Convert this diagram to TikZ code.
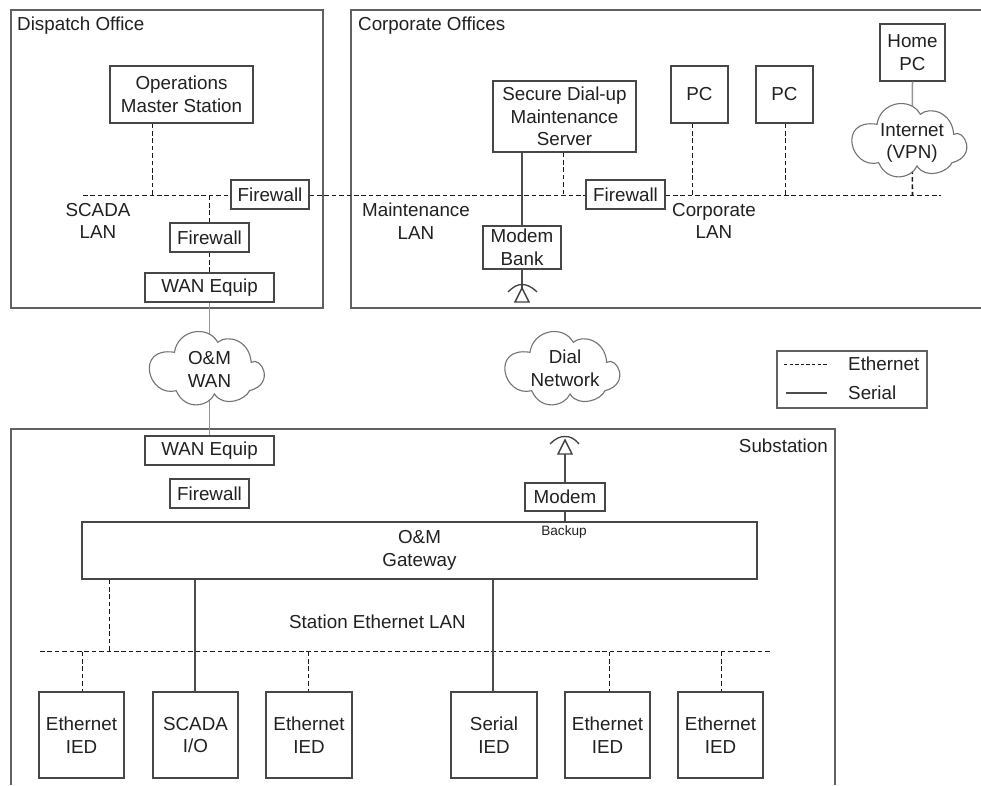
\documentclass[tikz,border=0pt]{standalone}
\usepackage{fontspec}
\setmainfont{Liberation Sans}
\definecolor{ink}{gray}{0.13}
\tikzset{
  x=1pt,y=-1pt,
  lbl/.style={inner sep=0pt,align=center,text=ink,font=\fontsize{18.8}{22.6}\selectfont},
  bx/.style n args={2}{lbl,draw=black!72,line width=1.3pt,fill=white,minimum width=#1,minimum height=#2},
  frame/.style={draw=black!62,line width=1.5pt},
  eth/.style={draw=black!90,line width=1.6pt,dash pattern=on 4.6pt off 2.8pt},
  ser/.style={draw=black!70,line width=2.3pt},
  thinser/.style={draw=black!42,line width=1.5pt},
  cloudline/.style={draw=black!55,line width=1.1pt,fill=white},
  ant/.style={draw=black!75,line width=1.4pt,fill=white},
}
\newcommand{\cloudat}[1]{%
  \path[cloudline,shift={(#1)}] (-35,-15.7)
    .. controls (-32,-38) and (-2,-44) .. (8.3,-25.7)
    .. controls (18,-34) and (40,-28) .. (41.7,-5.7)
    .. controls (52,-12) and (66,16) .. (40,22.7)
    .. controls (36,32) and (14,40) .. (5,26)
    .. controls (0,38) and (-24,44) .. (-33.3,22.7)
    .. controls (-62,30) and (-75,-22) .. (-35,-15.7) -- cycle;}
\begin{document}
\begin{tikzpicture}
\useasboundingbox (0,0) rectangle (981,785);
\fill[white] (0,0) rectangle (981,785);
% frames
\draw[frame] (11,10) rectangle (323,308);
\draw[frame] (981,10) -- (351,10) -- (351,308) -- (981,308);
\draw[frame] (11,785) -- (11,429) -- (835,429) -- (835,785);
\draw[frame] (777,351) rectangle (927,408);
% boxes
\node[bx={143pt}{57pt}] (opm) at (181.5,94.5) {Operations\\Master Station};
\node[bx={78pt}{29pt}] (fw1) at (270,194.5) {Firewall};
\node[bx={79pt}{29pt}] (fw2) at (209.5,237.5) {Firewall};
\node[bx={129pt}{29pt}] (wan1) at (209.5,287.5) {WAN Equip};
\node[bx={143pt}{71pt}] (sec) at (564.5,116.5) {Secure Dial-up\\Maintenance\\Server};
\node[bx={79pt}{29pt}] (fw3) at (625.5,194.5) {Firewall};
\node[bx={78pt}{43pt}] (bank) at (522,247.5) {Modem\\Bank};
\node[bx={57pt}{57pt}] (pc1) at (699.5,94.5) {PC};
\node[bx={57pt}{57pt}] (pc2) at (784.5,94.5) {PC};
\node[bx={65pt}{57pt}] (home) at (912.5,52.5) {Home\\PC};
\node[bx={129pt}{29pt}] (wan2) at (209.5,450.5) {WAN Equip};
\node[bx={79pt}{29pt}] (fw4) at (209.5,493.5) {Firewall};
\node[bx={80pt}{28pt}] (modem) at (565,497) {Modem};
\node[bx={675pt}{57pt}] (gw) at (419.5,550.5) {O\&M\\Gateway};
\node[bx={85pt}{86pt}] (i1) at (81.5,735) {Ethernet\\IED};
\node[bx={85pt}{86pt}] (i2) at (195.5,735) {SCADA\\I/O};
\node[bx={86pt}{86pt}] (i3) at (309,735) {Ethernet\\IED};
\node[bx={86pt}{86pt}] (i4) at (494,735) {Serial\\IED};
\node[bx={85pt}{86pt}] (i5) at (607.5,735) {Ethernet\\IED};
\node[bx={85pt}{86pt}] (i6) at (720.5,735) {Ethernet\\IED};
% bus end points and taps
\coordinate (busL) at (83,195.5);
\coordinate (busR) at (941,195.5);
\coordinate (tOp) at (152.5,195.5);
\coordinate (tFw) at (209.5,195.5);
\coordinate (tSec) at (563.5,195.5);
\coordinate (tPc1) at (692.5,195.5);
\coordinate (tPc2) at (785.5,195.5);
\coordinate (tNet) at (912.5,195.5);
\coordinate (sL) at (40,651.5);
\coordinate (sR) at (771,651.5);
\coordinate (tGw) at (109.5,651.5);
\coordinate (tI1) at (82.5,651.5);
\coordinate (tI3) at (308.5,651.5);
\coordinate (tI5) at (609.5,651.5);
\coordinate (tI6) at (721.5,651.5);
\coordinate (sSer1) at (195,651.5);
\coordinate (sSer2) at (493,651.5);
\coordinate (cWan) at (209.5,368);
\coordinate (cDial) at (565,368);
\coordinate (cNet) at (912,140);
\coordinate (antA) at (522,288);
\coordinate (antB) at (565,440);
\coordinate (legA) at (784,364.5);
\coordinate (legB) at (827,364.5);
\coordinate (legC) at (786,393);
\coordinate (legD) at (827,393);
% connectors
\draw[eth] (busL) -- (busL -| fw1.west);
\draw[eth] (busL -| fw1.east) -- (busL -| fw3.west);
\draw[eth] (busL -| fw3.east) -- (busR);
\draw[eth] (opm.south -| tOp) -- (tOp);
\draw[eth] (tFw) -- (fw2.north);
\draw[eth] (fw2.south) -- (wan1.north -| fw2.south);
\draw[eth] (sec.south -| tSec) -- (tSec);
\draw[eth] (pc1.south -| tPc1) -- (tPc1);
\draw[eth] (pc2.south -| tPc2) -- (tPc2);
\draw[eth] (cNet) -- (tNet);
\draw[ser] (sec.south -| bank.north) -- (bank.north);
\draw[ser] (bank.south) -- (antA);
\draw[thinser] (wan1.south) -- (cWan) -- (wan2.north);
\draw[thinser] (home.south) -- (cNet);
\draw[eth] (sL) -- (sR);
\draw[eth] (gw.south -| tGw) -- (tGw);
\draw[eth] (tI1) -- (i1.north -| tI1);
\draw[eth] (tI3) -- (i3.north -| tI3);
\draw[eth] (tI5) -- (i5.north -| tI5);
\draw[eth] (tI6) -- (i6.north -| tI6);
\draw[ser] (gw.south -| sSer1) -- (i2.north -| sSer1);
\draw[ser] (gw.south -| sSer2) -- (i4.north -| sSer2);
\draw[ser] (modem.north) -- (antB);
\draw[ser] (modem.south) -- (gw.north -| modem.south);
\draw[eth,dash pattern=on 3.4pt off 2.2pt,line width=1pt] (legA) -- (legB);
\draw[ser] (legC) -- (legD);
% antennas
\draw[ant] (522,288) -- (515,302) -- (529,302) -- cycle;
\draw[draw=black!75,line width=1.3pt] (508,292) .. controls (514,286) and (518,284.5) .. (522,284.5) .. controls (526,284.5) and (531,286) .. (537,292);
\draw[ant] (565,440) -- (558,454) -- (572,454) -- cycle;
\draw[draw=black!75,line width=1.3pt] (550,444) .. controls (556,438) and (560,436.5) .. (565,436.5) .. controls (570,436.5) and (574,438) .. (579,444);
% clouds
\cloudat{209.5,368}
\cloudat{565,368}
\cloudat{912,140}
\node[lbl] (tWan) at (cWan) [yshift=-1.5pt] {O\&M\\WAN};
\node[lbl] (tDial) at (cDial) {Dial\\Network};
\node[lbl] (tNetx) at (cNet) [yshift=-3pt] {Internet\\(VPN)};
% labels
\node[lbl,anchor=west] (l1) at (17,26) {Dispatch Office};
\node[lbl,anchor=west] (l2) at (358,26) {Corporate Offices};
\node[lbl] (l3) at (98,221) {SCADA\\LAN};
\node[lbl] (l4) at (416,221) {Maintenance\\LAN};
\node[lbl] (l5) at (714,221) {Corporate\\LAN};
\node[lbl] (l6) at (377.5,622) {Station Ethernet LAN};
\node[lbl,anchor=east] (l7) at (828,446) {Substation};
\node[lbl,font=\fontsize{13.6}{16}\selectfont] (l8) at (564,532) {Backup};
\node[lbl,anchor=west] (l9) at (848,364) {Ethernet};
\node[lbl,anchor=west] (l10) at (848,393) {Serial};
\end{tikzpicture}
\end{document}
